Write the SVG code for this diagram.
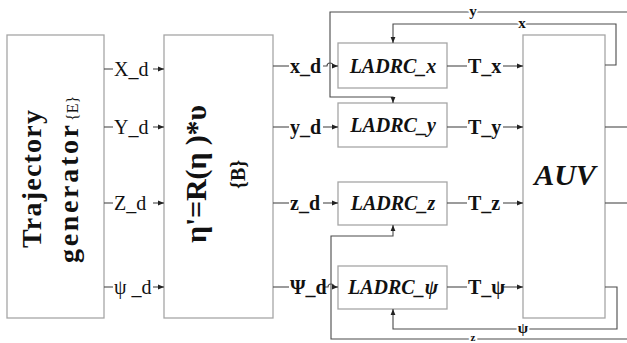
<svg xmlns="http://www.w3.org/2000/svg" width="627" height="343" viewBox="0 0 627 343" font-family="Liberation Serif, serif">
<defs>
<marker id="ah" viewBox="0 0 10 10" refX="10" refY="5" markerWidth="6" markerHeight="6" markerUnits="userSpaceOnUse" orient="auto">
<path d="M0,1 L10,5 L0,9 Z" fill="#222"/>
</marker>
</defs>

<g id="traj">
<rect x="7" y="35" width="97" height="283" fill="#fff" stroke="#a6a6a6" stroke-width="1.3"/>
<text font-family="Liberation Serif, serif" font-size="28" font-weight="bold" fill="#111" transform="translate(41,248) rotate(-90)" textLength="138" lengthAdjust="spacing">Trajectory</text>
<text font-family="Liberation Serif, serif" font-size="28" font-weight="bold" fill="#111" transform="translate(78,263) rotate(-90)" textLength="138" lengthAdjust="spacing">generator</text>
<text font-family="Liberation Serif, serif" font-size="16" fill="#111" transform="translate(78,121) rotate(-90)">{E}</text>
</g>

<g id="transform">
<rect x="164" y="35" width="109" height="283" fill="#fff" stroke="#a6a6a6" stroke-width="1.3"/>
<text font-family="Liberation Serif, serif" font-size="30" font-weight="bold" fill="#111" transform="translate(206,243) rotate(-90)" textLength="138" lengthAdjust="spacing">η'=R(η )*υ</text>
<text font-family="Liberation Serif, serif" font-size="20" font-weight="bold" fill="#111" transform="translate(245,189) rotate(-90)">{B}</text>
</g>

<g id="ladrc_x" font-family="Liberation Serif, serif" font-size="20" font-weight="bold" font-style="italic" text-anchor="middle" fill="#111"><rect x="338" y="43" width="109" height="45" fill="#fff" stroke="#a6a6a6" stroke-width="1.3"/><text x="393" y="73">LADRC_x</text></g>
<g id="ladrc_y" font-family="Liberation Serif, serif" font-size="20" font-weight="bold" font-style="italic" text-anchor="middle" fill="#111"><rect x="338" y="103" width="109" height="44" fill="#fff" stroke="#a6a6a6" stroke-width="1.3"/><text x="393" y="132">LADRC_y</text></g>
<g id="ladrc_z" font-family="Liberation Serif, serif" font-size="20" font-weight="bold" font-style="italic" text-anchor="middle" fill="#111"><rect x="338" y="182" width="109" height="43" fill="#fff" stroke="#a6a6a6" stroke-width="1.3"/><text x="393" y="210">LADRC_z</text></g>
<g id="ladrc_psi" font-family="Liberation Serif, serif" font-size="20" font-weight="bold" font-style="italic" text-anchor="middle" fill="#111"><rect x="338" y="266" width="109" height="43" fill="#fff" stroke="#a6a6a6" stroke-width="1.3"/><text x="393" y="294">LADRC_ψ</text></g>

<g id="auv" font-family="Liberation Serif, serif" fill="#111"><rect x="523" y="35" width="82" height="283" fill="#fff" stroke="#a6a6a6" stroke-width="1.3"/><text x="565" y="185" font-size="30" font-weight="bold" font-style="italic" text-anchor="middle">AUV</text></g>

<g id="connectors" fill="none" stroke="#4a4a4a" stroke-width="1.1">
<path d="M104,69 H113"/><path marker-end="url(#ah)" d="M153,69 H164"/>
<path d="M104,127 H113"/><path marker-end="url(#ah)" d="M153,127 H164"/>
<path d="M104,203 H113"/><path marker-end="url(#ah)" d="M153,203 H164"/>
<path d="M104,287 H113"/><path marker-end="url(#ah)" d="M153,287 H164"/>
<path d="M273,66 H289"/><path marker-end="url(#ah)" d="M323,66 H327 a3,3 0 0 1 6,0 H338"/>
<path d="M273,127 H289"/><path marker-end="url(#ah)" d="M323,127 H338"/>
<path d="M273,203 H289"/><path marker-end="url(#ah)" d="M323,203 H338"/>
<path d="M273,287 H289"/><path marker-end="url(#ah)" d="M324,287 H328 a3,3 0 0 1 6,0 H338"/>
<path d="M447,66 H467"/><path marker-end="url(#ah)" d="M503,66 H523"/>
<path d="M447,127 H467"/><path marker-end="url(#ah)" d="M503,127 H523"/>
<path d="M447,203 H467"/><path marker-end="url(#ah)" d="M503,203 H523"/>
<path d="M447,287 H467"/><path marker-end="url(#ah)" d="M503,287 H523"/>
<path d="M605,127 H627"/>
<path d="M605,203 H627"/>
<path marker-end="url(#ah)" d="M627,12 H330 V97 H393 V103"/>
<path marker-end="url(#ah)" d="M605,65 H616 V24 H393 V43"/>
<path marker-end="url(#ah)" d="M605,287 H617 V329 H393 V309"/>
<path marker-end="url(#ah)" d="M627,339 H331 V236 H393 V225"/>
<g font-family="Liberation Serif, serif" font-weight="bold" text-anchor="middle" fill="#111" stroke="#fff" stroke-width="4" paint-order="stroke">
<text x="473" y="16" font-size="15">y</text>
<text x="522" y="28" font-size="15">x</text>
<text x="523" y="333" font-size="15">ψ</text>
<text x="473" y="341" font-size="11">z</text>
</g>
</g>

<g id="labels" font-family="Liberation Serif, serif" font-size="20" fill="#111">
<text x="114" y="76">X_d</text>
<text x="114" y="134">Y_d</text>
<text x="114" y="210">Z_d</text>
<text x="114" y="294">ψ _d</text>
<text x="290" y="73" font-weight="bold">x_d</text>
<text x="290" y="134" font-weight="bold">y_d</text>
<text x="290" y="210" font-weight="bold">z_d</text>
<text x="290" y="294" font-weight="bold">Ψ_d</text>
<text x="468" y="73" font-weight="bold">T_x</text>
<text x="468" y="134" font-weight="bold">T_y</text>
<text x="468" y="210" font-weight="bold">T_z</text>
<text x="468" y="294" font-weight="bold">T_ψ</text>
</g>
</svg>
